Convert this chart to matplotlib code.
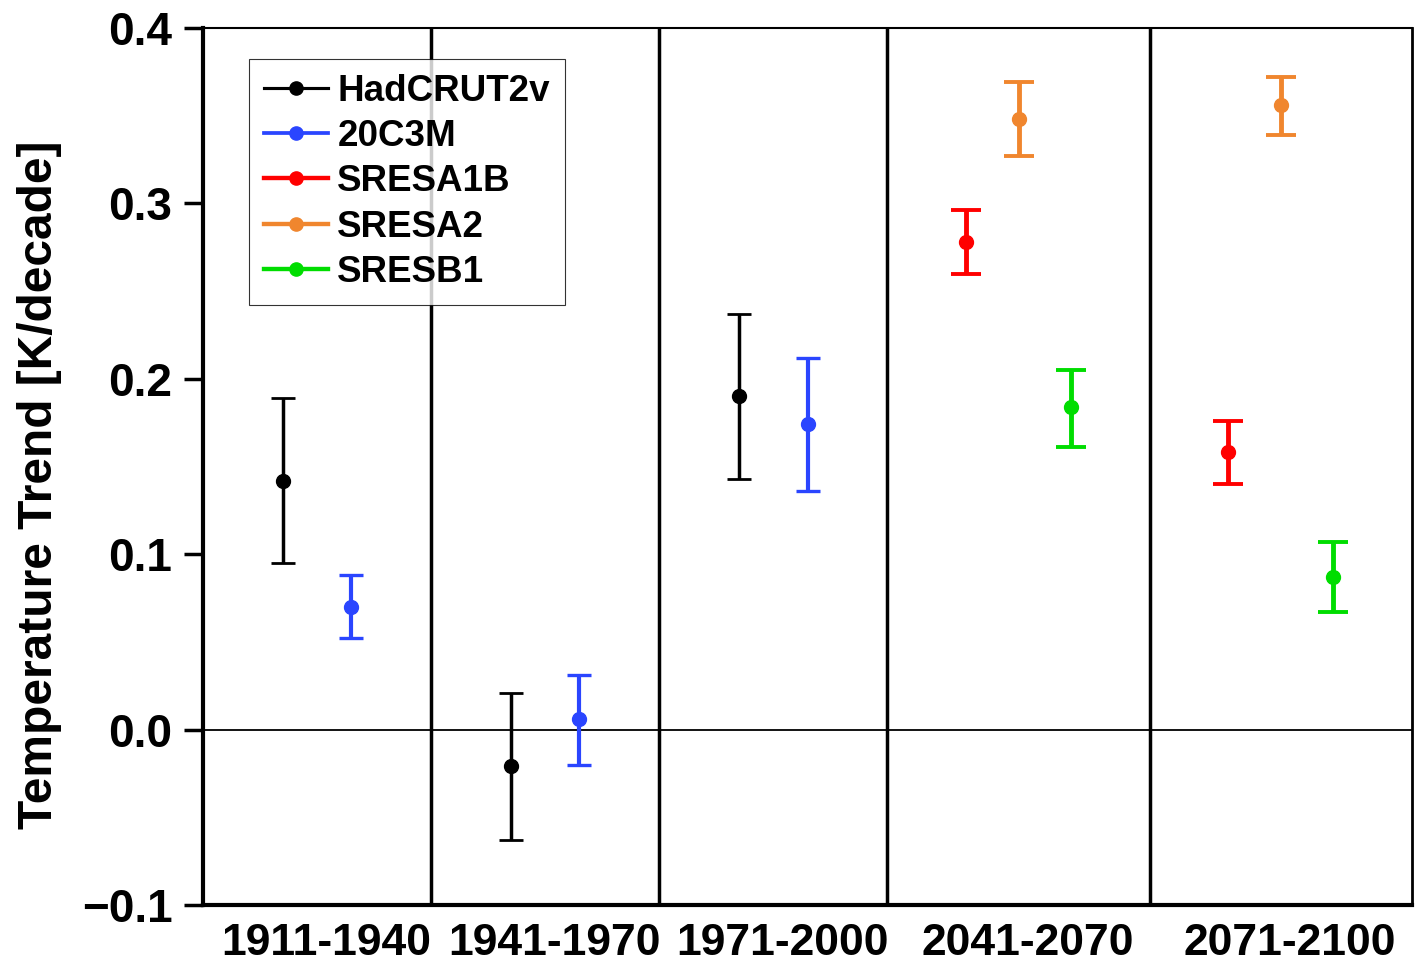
import matplotlib
matplotlib.use("Agg")
import matplotlib.pyplot as plt
from matplotlib.lines import Line2D
import numpy as np

plt.rcParams['font.family'] = ['Liberation Sans', 'DejaVu Sans']
plt.rcParams['font.weight'] = 'bold'

# periods and panel layout (panel edges in axis units)
periods = ['1911-1940', '1941-1970', '1971-2000', '2041-2070', '2071-2100']
edges = np.array([0, 1, 2, 3, 4.15, 5.3])

# trend values [K/decade] with lower / upper bounds
had_per = [0, 1, 2]
had_val = [0.142, -0.021, 0.190]
had_lo = [0.095, -0.063, 0.143]
had_hi = [0.189, 0.021, 0.237]

c20_per = [0, 1, 2]
c20_val = [0.070, 0.006, 0.174]
c20_lo = [0.052, -0.020, 0.136]
c20_hi = [0.088, 0.031, 0.212]

a1b_per = [3, 4]
a1b_val = [0.278, 0.158]
a1b_lo = [0.260, 0.140]
a1b_hi = [0.296, 0.176]

a2_per = [3, 4]
a2_val = [0.348, 0.356]
a2_lo = [0.327, 0.339]
a2_hi = [0.369, 0.372]

b1_per = [3, 4]
b1_val = [0.184, 0.087]
b1_lo = [0.161, 0.067]
b1_hi = [0.205, 0.107]

series = [
    ('HadCRUT2v', had_per, had_val, had_lo, had_hi, 'black', 0.35, 2.5, 8.5),
    ('20C3M', c20_per, c20_val, c20_lo, c20_hi, '#2a45ff', 0.65, 3, 8.5),
    ('SRESA1B', a1b_per, a1b_val, a1b_lo, a1b_hi, '#ff0000', 0.30, 3.5, 10.5),
    ('SRESA2', a2_per, a2_val, a2_lo, a2_hi, '#f0862e', 0.50, 3.5, 10.5),
    ('SRESB1', b1_per, b1_val, b1_lo, b1_hi, '#00dd00', 0.70, 3.5, 10.5),
]

fig = plt.figure(figsize=(14.16, 9.67), dpi=100)
ax = fig.add_axes([0.1434, 0.0641, 0.8538, 0.9069])

for name, per, val, lo, hi, col, frac, lw, cap in series:
    per = np.array(per)
    val = np.array(val)
    x = edges[per] + frac * (edges[per + 1] - edges[per])
    yerr = [val - np.array(lo), np.array(hi) - val]
    ax.errorbar(x, val, yerr=yerr, fmt='o', color=col, ms=10, elinewidth=lw,
                capsize=cap, capthick=lw * 0.8, label=name)

# legend handles as line + marker
handles = [Line2D([], [], color=s[5], lw=s[7] * 0.9, marker='o', ms=9.5) for s in series]
leg = ax.legend(handles, [s[0] for s in series], loc='upper left',
                bbox_to_anchor=(0.038, 0.9647), borderaxespad=0, fontsize=26.5,
                frameon=True, fancybox=False, edgecolor='black', handlelength=1.75,
                handletextpad=0.25, labelspacing=0.28, borderpad=0.4)
leg.get_frame().set_linewidth(0.8)
for t in leg.get_texts():
    t.set_fontweight('bold')

ax.axhline(0, color='black', lw=1.3, zorder=0)
for e in edges[1:-1]:
    ax.axvline(e, color='black', lw=2.5, zorder=0)

ax.set_xlim(edges[0], edges[-1])
ax.set_ylim(-0.1, 0.4)
ax.set_yticks(np.arange(-0.1, 0.41, 0.1))
ax.set_yticklabels(['\u22120.1', '0.0', '0.1', '0.2', '0.3', '0.4'])
centers = (edges[:-1] + edges[1:]) / 2 + 0.04
ax.set_xticks(centers)
ax.set_xticklabels(periods)
ax.tick_params(axis='x', length=0, pad=13, labelsize=32)
ax.tick_params(axis='y', length=14, width=2.5, direction='out', pad=8, labelsize=33)
for lab in ax.get_xticklabels() + ax.get_yticklabels():
    lab.set_fontweight('bold')

ax.set_ylabel('Temperature Trend [K/decade]', fontsize=34.5, fontweight='bold')
ax.yaxis.set_label_coords(-0.117, 0.479)

ax.spines['left'].set_linewidth(3)
ax.spines['bottom'].set_linewidth(3)
ax.spines['right'].set_linewidth(2)
ax.spines['top'].set_linewidth(1.5)

fig.savefig('out.png', dpi=100)
